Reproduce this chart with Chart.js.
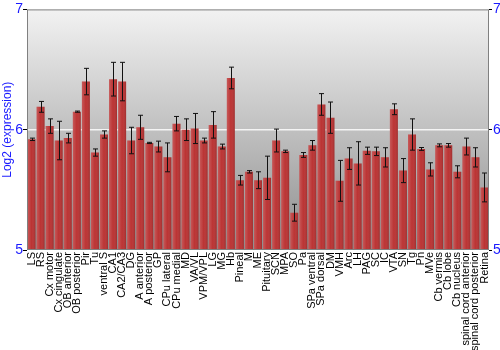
<!DOCTYPE html>
<html>
<head>
<meta charset="utf-8">
<script src="https://cdn.jsdelivr.net/npm/chart.js@4"></script>
<style>
  html, body { margin: 0; padding: 0; background: #fff; }
  #wrap { width: 500px; height: 350px; }
</style>
</head>
<body>
<div id="wrap"><canvas id="barChart"></canvas></div>
<script>
const regions = ['LS', 'RS', 'Cx motor', 'Cx cingulate', 'OB anterior', 'OB posterior', 'Pir', 'Tu',
    'ventral S', 'CA1', 'CA2/CA3', 'DG', 'A anterior', 'A posterior', 'GP', 'CPu lateral', 'CPu medial',
    'MD', 'VA/VL', 'VPM/VPL', 'LG', 'MG', 'Hb', 'Pineal', 'M', 'ME', 'Pituitary', 'SCN', 'MPA', 'SO',
    'Pa', 'SPa ventral', 'SPa dorsal', 'DM', 'VMH', 'Arc', 'LH', 'PAG', 'SC', 'IC', 'VTA', 'SN', 'Tg',
    'Pn', 'MVe', 'Cb vermis', 'Cb lobe', 'Cb nucleus', 'spinal cord anterior', 'spinal cord posterior', 'Retina'];

const expression = [5.92, 6.19, 6.03, 5.91, 5.93, 6.15, 6.40, 5.81,
    5.96, 6.42, 6.40, 5.91, 6.02, 5.89, 5.86, 5.77, 6.05,
    6.00, 6.01, 5.91, 6.04, 5.86, 6.43, 5.58, 5.65, 5.58, 5.60, 5.91, 5.82, 5.31,
    5.79, 5.87, 6.21, 6.10, 5.575, 5.76, 5.72, 5.825, 5.82, 5.77, 6.17, 5.66, 5.96,
    5.84, 5.67, 5.87, 5.87, 5.65, 5.86, 5.77, 5.52];

const errors = [0.01, 0.045, 0.06, 0.16, 0.04, 0.005, 0.11, 0.03,
    0.03, 0.14, 0.16, 0.11, 0.10, 0.005, 0.045, 0.12, 0.06,
    0.09, 0.125, 0.02, 0.11, 0.02, 0.09, 0.04, 0.01, 0.07, 0.18, 0.095, 0.01, 0.07,
    0.02, 0.04, 0.09, 0.13, 0.17, 0.09, 0.18, 0.03, 0.035, 0.08, 0.045, 0.10, 0.13,
    0.012, 0.055, 0.012, 0.015, 0.05, 0.07, 0.08, 0.12];

const yTicks = [5, 6, 7];

const blue = '#1a1aff';

const backdrop = {
    id: 'backdrop',
    beforeDatasetsDraw(chart) {
        const { ctx, chartArea } = chart;
        const g = ctx.createLinearGradient(0, chartArea.top, 0, chartArea.bottom);
        g.addColorStop(0, '#f2f2f2');
        g.addColorStop(1, '#8e8e8e');
        ctx.save();
        ctx.fillStyle = g;
        ctx.fillRect(chartArea.left, chartArea.top, chartArea.right - chartArea.left, chartArea.bottom - chartArea.top);
        // white line at 6
        const y6 = chart.scales.y.getPixelForValue(6);
        ctx.strokeStyle = '#f4f4f4';
        ctx.lineWidth = 1.5;
        ctx.beginPath();
        ctx.moveTo(chartArea.left, y6);
        ctx.lineTo(chartArea.right, y6);
        ctx.stroke();
        ctx.restore();
    },
    afterDatasetsDraw(chart) {
        const { ctx, chartArea } = chart;
        const meta = chart.getDatasetMeta(0);
        const yScale = chart.scales.y;
        ctx.save();
        // bar shading, kept inside the plot
        meta.data.forEach((bar) => {
            const left = bar.x - bar.width / 2;
            const bottom = Math.min(bar.base, chartArea.bottom);
            const g = ctx.createLinearGradient(left, 0, left + bar.width, 0);
            g.addColorStop(0, 'rgba(255,255,255,0.18)');
            g.addColorStop(0.5, 'rgba(255,255,255,0.0)');
            g.addColorStop(1, 'rgba(0,0,0,0.15)');
            ctx.fillStyle = g;
            ctx.fillRect(left, bar.y, bar.width, bottom - bar.y);
        });
        // error bars
        ctx.strokeStyle = '#111';
        ctx.lineWidth = 1;
        meta.data.forEach((bar, i) => {
            const x = Math.round(bar.x) + 0.5;
            const hi = yScale.getPixelForValue(expression[i] + errors[i]);
            const lo = yScale.getPixelForValue(expression[i] - errors[i]);
            ctx.beginPath();
            ctx.moveTo(x, hi);
            ctx.lineTo(x, lo);
            ctx.moveTo(x - 2.5, hi);
            ctx.lineTo(x + 2.5, hi);
            ctx.moveTo(x - 2.5, lo);
            ctx.lineTo(x + 2.5, lo);
            ctx.stroke();
        });
        // frame
        ctx.strokeStyle = '#808080';
        ctx.strokeRect(chartArea.left + 0.5, chartArea.top + 0.5,
            chartArea.right - chartArea.left - 1, chartArea.bottom - chartArea.top - 1);
        ctx.restore();
    }
};

new Chart(document.getElementById('barChart'), {
    type: 'bar',
    data: {
        labels: regions,
        datasets: [{
            data: expression,
            backgroundColor: '#bb3434',
            borderWidth: 0,
            categoryPercentage: 1,
            barPercentage: 0.88,
        }],
    },
    options: {
        responsive: true,
        maintainAspectRatio: false,
        animation: false,
        layout: {
            padding: { top: 9, right: 0, bottom: 0, left: 0 }
        },
        plugins: {
            legend: { display: false },
            tooltip: { enabled: false },
        },
        scales: {
            x: {
                grid: { display: false, drawTicks: false },
                border: { display: false },
                ticks: {
                    autoSkip: false,
                    minRotation: 90,
                    maxRotation: 90,
                    padding: 2,
                    color: '#000',
                    font: { family: 'Liberation Sans', size: 11 },
                },
                afterFit(scale) { scale.height = 100; }
            },
            y: {
                position: 'left',
                min: 5,
                max: 7,
                afterBuildTicks(scale) { scale.ticks = yTicks.map(v => ({ value: v })); },
                grid: { color: 'transparent', tickColor: '#000', tickLength: 4 },
                border: { display: false },
                ticks: {
                    color: blue,
                    padding: 0,
                    font: { family: 'Liberation Sans', size: 14 },
                },
                title: {
                    display: true,
                    text: 'Log2 (expression)',
                    color: blue,
                    padding: 0,
                    font: { family: 'Liberation Sans', size: 12 },
                },
                afterFit(scale) { scale.width = 27; }
            },
            y2: {
                position: 'right',
                min: 5,
                max: 7,
                afterBuildTicks(scale) { scale.ticks = yTicks.map(v => ({ value: v })); },
                grid: { display: true, drawOnChartArea: false, color: 'transparent', tickColor: '#000', tickLength: 3 },
                border: { display: false },
                ticks: {
                    color: blue,
                    padding: 1,
                    font: { family: 'Liberation Sans', size: 14 },
                },
                afterFit(scale) { scale.width = 11; }
            }
        }
    },
    plugins: [backdrop]
});
</script>
</body>
</html>
